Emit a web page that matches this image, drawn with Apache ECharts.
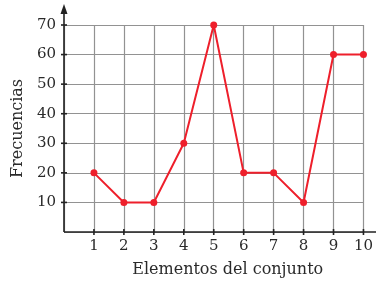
<!DOCTYPE html>
<html>
<head>
<meta charset="utf-8">
<script src="https://cdn.jsdelivr.net/npm/echarts@6/dist/echarts.min.js"></script>
<style>
  html, body { margin: 0; padding: 0; background: #fff; }
  #chart { width: 376px; height: 283px; }
</style>
</head>
<body>
<div id="chart"></div>
<script>
// values
var elementos = [1, 2, 3, 4, 5, 6, 7, 8, 9, 10];
var frecuencias = [20, 10, 10, 30, 70, 20, 20, 10, 60, 60];

var serif = '"DejaVu Serif", "Liberation Serif", serif';
var chart = echarts.init(document.getElementById('chart'));

var points = elementos.map(function (x, i) { return [x, frecuencias[i]]; });

var option = {
    animation: false,
    grid: { left: 64, right: 12, top: 25, bottom: 48 },
    xAxis: {
        type: 'value',
        min: 0, max: 10, interval: 1,
        name: 'Elementos del conjunto',
        nameLocation: 'middle',
        nameGap: 30,
        nameTextStyle: { fontFamily: serif, fontSize: 16, color: '#2a2a2a', padding: [0, 0, 0, 28] },
        axisLine: { show: false },
        axisTick: { show: false },
        axisLabel: {
            fontFamily: serif, fontSize: 15, color: '#2a2a2a', margin: 7,
            formatter: function (v) { return v === 0 ? '' : v; }
        },
        splitLine: { show: true, lineStyle: { color: '#929292', width: 1.2 } }
    },
    yAxis: {
        type: 'value',
        min: 0, max: 70, interval: 10,
        name: 'Frecuencias',
        nameLocation: 'middle',
        nameGap: 36,
        nameTextStyle: { fontFamily: serif, fontSize: 16, color: '#2a2a2a' },
        axisLine: { show: false },
        axisTick: { show: false },
        axisLabel: {
            fontFamily: serif, fontSize: 15, color: '#2a2a2a', margin: 8,
            formatter: function (v) { return v === 0 ? '' : v; }
        },
        splitLine: { show: true, lineStyle: { color: '#929292', width: 1.2 } }
    },
    series: [{
        type: 'line',
        data: points,
        symbol: 'circle',
        symbolSize: 7,
        lineStyle: { color: '#ee1f2b', width: 2 },
        itemStyle: { color: '#ee1f2b' },
        z: 5
    }]
};
chart.setOption(option);

// axis lines with arrow and crossing ticks, placed from the axis scales
var o = chart.convertToPixel({ gridIndex: 0 }, [0, 0]);
var g = [];
var axisStyle = { stroke: '#222', lineWidth: 1.6 };
g.push({ type: 'line', shape: { x1: o[0], y1: o[1], x2: o[0], y2: 10 }, style: axisStyle, z: 10 });
g.push({ type: 'polygon', shape: { points: [[o[0], 4], [o[0] - 3.5, 14], [o[0] + 3.5, 14]] }, style: { fill: '#222' }, z: 10 });
g.push({ type: 'line', shape: { x1: o[0], y1: o[1], x2: 376, y2: o[1] }, style: axisStyle, z: 10 });
elementos.forEach(function (x) {
    var p = chart.convertToPixel({ gridIndex: 0 }, [x, 0]);
    g.push({ type: 'line', shape: { x1: p[0], y1: p[1] - 3, x2: p[0], y2: p[1] + 3 }, style: axisStyle, z: 10 });
});
[10, 20, 30, 40, 50, 60, 70].forEach(function (y) {
    var p = chart.convertToPixel({ gridIndex: 0 }, [0, y]);
    g.push({ type: 'line', shape: { x1: p[0] - 3, y1: p[1], x2: p[0] + 3, y2: p[1] }, style: axisStyle, z: 10 });
});
chart.setOption({ graphic: g });
</script>
</body>
</html>
